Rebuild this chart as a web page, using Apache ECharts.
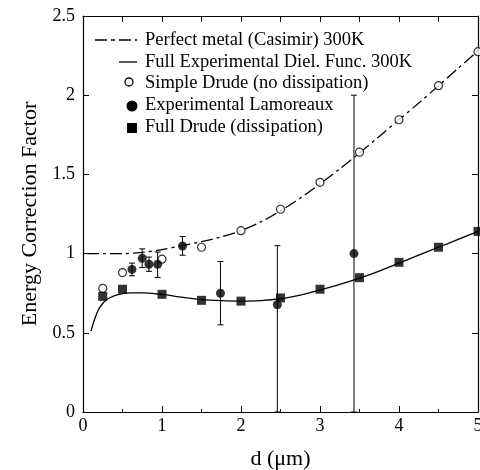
<!DOCTYPE html>
<html>
<head>
<meta charset="utf-8">
<script src="https://cdn.jsdelivr.net/npm/echarts@6/dist/echarts.min.js"></script>
<style>
  html, body { margin: 0; padding: 0; background: #fff; }
  #chart { width: 480px; height: 470px; }
</style>
</head>
<body>
<div id="chart"></div>
<script>
// Perfect metal (Casimir) 300K, dash-dot curve
var casimirD   = [0.05, 0.25, 0.5, 0.75, 1.0, 1.25, 1.5, 1.75, 2.0, 2.25, 2.5, 2.75, 3.0, 3.25, 3.5, 3.75, 4.0, 4.25, 4.5, 4.75, 5.0];
var casimirVal = [1.0, 1.0, 1.0, 1.008, 1.025, 1.05, 1.075, 1.105, 1.145, 1.2, 1.27, 1.35, 1.44, 1.535, 1.635, 1.74, 1.845, 1.95, 2.06, 2.17, 2.28];

// Full experimental dielectric function 300K, solid curve
var fullExpD   = [0.1, 0.15, 0.2, 0.25, 0.3, 0.4, 0.5, 0.6, 0.75, 1.0, 1.25, 1.5, 1.75, 2.0, 2.25, 2.5, 2.75, 3.0, 3.25, 3.5, 3.75, 4.0, 4.25, 4.5, 4.75, 5.0];
var fullExpVal = [0.51, 0.59, 0.65, 0.685, 0.71, 0.735, 0.748, 0.752, 0.752, 0.742, 0.725, 0.71, 0.703, 0.70, 0.703, 0.715, 0.738, 0.77, 0.805, 0.845, 0.89, 0.94, 0.99, 1.04, 1.09, 1.14];

// Simple Drude (no dissipation), open circles
var simpleD   = [0.25, 0.5, 1.0, 1.5, 2.0, 2.5, 3.0, 3.5, 4.0, 4.5, 5.0];
var simpleVal = [0.78, 0.88, 0.965, 1.04, 1.145, 1.28, 1.45, 1.64, 1.845, 2.06, 2.275];

// Experimental Lamoreaux, filled circles with error bars
var lamD    = [0.62, 0.75, 0.835, 0.945, 1.26, 1.74, 2.46, 3.43];
var lamVal  = [0.90, 0.97, 0.933, 0.933, 1.048, 0.75, 0.677, 1.0];
var lamLow  = [0.86, 0.912, 0.888, 0.85, 0.99, 0.55, 0, 0];
var lamHigh = [0.94, 1.03, 0.978, 1.01, 1.108, 0.95, 1.05, 2.0];

// Full Drude (dissipation), filled squares
var drudeD   = [0.25, 0.5, 1.0, 1.5, 2.0, 2.5, 3.0, 3.5, 4.0, 4.5, 5.0];
var drudeVal = [0.73, 0.775, 0.743, 0.705, 0.70, 0.72, 0.775, 0.848, 0.945, 1.04, 1.14];

var legendNames = [
  'Perfect metal (Casimir) 300K',
  'Full Experimental Diel. Func. 300K',
  'Simple Drude (no dissipation)',
  'Experimental Lamoreaux',
  'Full Drude (dissipation)'
];

var FONT = '"Liberation Serif", "DejaVu Serif", serif';

function pairs(xs, ys) {
  return xs.map(function (x, i) { return [x, ys[i]]; });
}

var chart = echarts.init(document.getElementById('chart'));

var tickStyle = { show: true, inside: true, length: 6, lineStyle: { color: '#000', width: 1 } };
var minorStyle = { show: true, splitNumber: 2, length: 3, lineStyle: { color: '#000', width: 1 } };
var lineBlack = { show: true, onZero: false, lineStyle: { color: '#000', width: 1.2 } };

function legendRow(y, icon, text) {
  return {
    type: 'group',
    children: icon.concat([{
      type: 'text',
      x: 145, y: y,
      style: { text: text, font: '18.5px ' + FONT, fill: '#000', verticalAlign: 'middle' }
    }])
  };
}

var option = {
  animation: false,
  backgroundColor: '#fff',
  grid: { left: 83, right: 2, top: 16, bottom: 58, containLabel: false, outerBoundsMode: 'none' },
  xAxis: [{
    type: 'value', min: 0, max: 5, interval: 1, position: 'bottom',
    name: 'd (\u03bcm)', nameLocation: 'middle', nameGap: 36,
    nameTextStyle: { fontFamily: FONT, fontSize: 22, color: '#000' },
    axisLine: lineBlack, axisTick: tickStyle, minorTick: minorStyle,
    axisLabel: { fontFamily: FONT, fontSize: 18, color: '#000', margin: 5 },
    splitLine: { show: false }
  }, {
    type: 'value', min: 0, max: 5, interval: 1, position: 'top',
    axisLine: lineBlack, axisTick: tickStyle, minorTick: { show: true, splitNumber: 2, length: 6, lineStyle: { color: '#000' } },
    axisLabel: { show: false }, splitLine: { show: false }
  }],
  yAxis: [{
    type: 'value', min: 0, max: 2.5, interval: 0.5, position: 'left',
    name: 'Energy Correction Factor', nameLocation: 'middle', nameGap: 42,
    nameTextStyle: { fontFamily: FONT, fontSize: 22, color: '#000' },
    axisLine: lineBlack, axisTick: tickStyle,
    axisLabel: { fontFamily: FONT, fontSize: 18, color: '#000', margin: 8 },
    splitLine: { show: false }
  }, {
    type: 'value', min: 0, max: 2.5, interval: 0.5, position: 'right',
    axisLine: lineBlack, axisTick: tickStyle,
    axisLabel: { show: false }, splitLine: { show: false }
  }],
  series: [{
    name: legendNames[0], type: 'line', data: pairs(casimirD, casimirVal),
    smooth: 0.3, showSymbol: false, z: 2,
    lineStyle: { color: '#000', width: 1.3, type: [12, 4, 3, 4] }
  }, {
    name: legendNames[1], type: 'line', data: pairs(fullExpD, fullExpVal),
    smooth: 0.3, showSymbol: false, z: 2,
    lineStyle: { color: '#000', width: 1.3 }
  }, {
    name: legendNames[2], type: 'scatter', data: pairs(simpleD, simpleVal),
    symbol: 'circle', symbolSize: 8, z: 3,
    itemStyle: { color: '#fff', borderColor: '#000', borderWidth: 1.2 }
  }, {
    name: 'errors', type: 'custom', z: 3,
    data: lamD.map(function (d, i) { return [d, lamLow[i], lamHigh[i]]; }),
    encode: { x: 0, y: [1, 2] },
    renderItem: function (params, api) {
      var lo = api.coord([api.value(0), api.value(1)]);
      var hi = api.coord([api.value(0), api.value(2)]);
      var s = { stroke: '#000', lineWidth: 1 };
      return {
        type: 'group',
        children: [
          { type: 'line', shape: { x1: lo[0], y1: lo[1], x2: hi[0], y2: hi[1] }, style: s },
          { type: 'line', shape: { x1: hi[0] - 3, y1: hi[1], x2: hi[0] + 3, y2: hi[1] }, style: s },
          { type: 'line', shape: { x1: lo[0] - 3, y1: lo[1], x2: lo[0] + 3, y2: lo[1] }, style: s }
        ]
      };
    }
  }, {
    name: legendNames[3], type: 'scatter', data: pairs(lamD, lamVal),
    symbol: 'circle', symbolSize: 9, z: 4,
    itemStyle: { color: '#000' }
  }, {
    name: legendNames[4], type: 'scatter', data: pairs(drudeD, drudeVal),
    symbol: 'rect', symbolSize: 9, z: 4,
    itemStyle: { color: '#000' }
  }],
  graphic: [
    legendRow(40, [{ type: 'line', shape: { x1: 95, y1: 40, x2: 137, y2: 40 },
      style: { stroke: '#000', lineWidth: 1.3, lineDash: [12, 4, 4, 4] } }], legendNames[0]),
    legendRow(62, [{ type: 'line', shape: { x1: 119, y1: 62, x2: 137, y2: 62 },
      style: { stroke: '#000', lineWidth: 1.3 } }], legendNames[1]),
    legendRow(83, [{ type: 'circle', shape: { cx: 129, cy: 82, r: 4 },
      style: { fill: '#fff', stroke: '#000', lineWidth: 1.3 } }], legendNames[2]),
    legendRow(105, [{ type: 'circle', shape: { cx: 132, cy: 106, r: 5.5 },
      style: { fill: '#000' } }], legendNames[3]),
    legendRow(127, [{ type: 'rect', shape: { x: 127, y: 123, width: 10, height: 10 },
      style: { fill: '#000' } }], legendNames[4])
  ]
};

chart.setOption(option);
</script>
</body>
</html>
